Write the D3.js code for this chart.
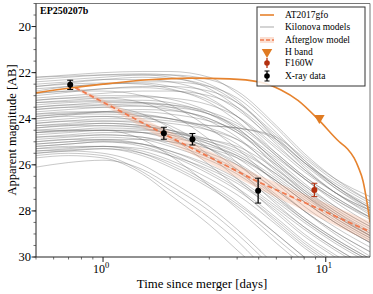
<!DOCTYPE html>
<html>
<head>
<meta charset="utf-8">
<script src="https://cdn.jsdelivr.net/npm/d3@7"></script>
<style>
  html, body { margin: 0; padding: 0; background: #fff; }
  text { font-family: "Liberation Serif", "DejaVu Serif", serif; }
</style>
</head>
<body>
<div id="chart"></div>
<script>
// AT2017gfo H-band light curve (days, AB mag)
const gfoTime = [0.5, 0.7, 1.0, 1.6, 2.5, 3.7, 5.0, 6.3, 7.5, 9.3, 11.5, 12.5, 13.4, 14.0, 14.7, 15.3, 15.8];
const gfoMag  = [22.88, 22.68, 22.5, 22.31, 22.24, 22.27, 22.4, 22.75, 23.2, 24.05, 25.0, 25.3, 25.7, 26.1, 26.7, 27.6, 28.5];

// afterglow model (power law) and its band
const afterglowTime = [0.75, 2, 5, 15.8];
const afterglowMag  = [22.65, 24.8, 26.75, 28.9];
const afterglowLow  = [22.58, 24.55, 26.45, 28.45];
const afterglowHigh = [22.72, 25.05, 27.05, 29.35];

// detections
const xrayTime = [0.712, 1.875, 2.52, 4.97];
const xrayMag  = [22.53, 24.63, 24.89, 27.12];
const xrayErr  = [0.2, 0.26, 0.25, 0.54];

const f160Time = [8.89];
const f160Mag  = [27.09];
const f160Err  = [0.29];

const hBandTime = [9.36];
const hBandMag  = [23.97];

// kilonova model grid, mags at kilonovaTimes
const kilonovaTimes = [0.5, 0.7, 1, 1.5, 2, 3, 4, 6, 8, 11, 16];
const kilonovaMags = [
  [22.2, 22.1, 22.0, 21.95, 21.95, 22.2, 22.9, 24.4, 25.6, 26.6, 27.4],
  [22.4, 22.3, 22.2, 22.1, 22.1, 22.3, 22.8, 24.3, 25.5, 26.6, 27.6],
  [22.6, 22.45, 22.3, 22.2, 22.25, 22.6, 23.3, 24.8, 25.9, 26.9, 27.8],
  [22.3, 22.2, 22.1, 22.05, 22.1, 22.5, 23.2, 24.9, 26.1, 27.2, 28.1],
  [22.8, 22.6, 22.5, 22.4, 22.4, 22.6, 23.1, 24.6, 25.8, 26.9, 27.9],
  [22.7, 22.6, 22.5, 22.45, 22.6, 23.1, 23.9, 25.3, 26.3, 27.2, 28.0],
  [22.5, 22.4, 22.3, 22.3, 22.4, 22.9, 23.6, 25.0, 26.0, 27.0, 27.9],
  [22.9, 22.8, 22.7, 22.6, 22.6, 22.8, 23.3, 24.7, 25.7, 26.7, 27.6],
  [23.0, 22.85, 22.7, 22.65, 22.75, 23.2, 23.9, 25.5, 26.5, 27.4, 28.3],
  [22.6, 22.5, 22.45, 22.5, 22.7, 23.3, 24.1, 25.6, 26.6, 27.5, 28.3],
  [23.1, 23.0, 22.9, 22.8, 22.8, 23.0, 23.5, 24.9, 25.9, 26.8, 27.7],
  [22.2, 22.15, 22.1, 22.1, 22.2, 22.7, 23.5, 25.1, 26.2, 27.2, 28.0],
  [23.3, 23.2, 23.1, 23.05, 23.1, 23.4, 23.9, 25.2, 26.2, 27.2, 28.2],
  [23.5, 23.4, 23.3, 23.3, 23.4, 23.8, 24.3, 25.6, 26.6, 27.6, 28.6],
  [23.7, 23.6, 23.5, 23.45, 23.5, 23.8, 24.4, 25.9, 27.0, 28.0, 29.0],
  [23.2, 23.1, 23.0, 23.0, 23.15, 23.7, 24.4, 25.9, 26.9, 27.9, 28.8],
  [23.9, 23.8, 23.7, 23.7, 23.8, 24.1, 24.5, 25.7, 26.6, 27.5, 28.4],
  [24.0, 23.85, 23.7, 23.6, 23.65, 24.0, 24.6, 26.0, 27.1, 28.1, 29.1],
  [23.4, 23.3, 23.25, 23.3, 23.5, 24.1, 24.8, 26.3, 27.3, 28.3, 29.2],
  [23.6, 23.5, 23.4, 23.35, 23.4, 23.7, 24.2, 25.5, 26.5, 27.4, 28.3],
  [24.1, 24.0, 23.9, 23.9, 24.0, 24.3, 24.4, 24.8, 25.8, 26.9, 27.9],
  [23.8, 23.75, 23.7, 23.8, 24.0, 24.5, 25.1, 26.5, 27.4, 28.3, 29.2],
  [24.2, 24.1, 24.0, 24.0, 24.1, 24.3, 24.4, 24.9, 25.9, 27.0, 28.0],
  [23.3, 23.25, 23.2, 23.2, 23.3, 23.8, 24.5, 26.1, 27.2, 28.2, 29.1],
  [24.3, 24.2, 24.1, 24.1, 24.2, 24.5, 24.9, 26.0, 26.9, 27.8, 28.7],
  [23.9, 23.8, 23.8, 23.85, 24.0, 24.4, 24.9, 26.2, 27.2, 28.1, 29.0],
  [23.5, 23.4, 23.4, 23.45, 23.6, 24.0, 24.6, 25.8, 26.8, 27.8, 28.7],
  [24.4, 24.3, 24.2, 24.3, 24.5, 25.0, 25.5, 26.6, 27.5, 28.4, 29.3],
  [24.6, 24.5, 24.4, 24.45, 24.6, 25.0, 25.4, 26.4, 27.3, 28.2, 29.1],
  [24.5, 24.4, 24.3, 24.4, 24.7, 25.3, 25.9, 27.1, 28.0, 28.9, 29.8],
  [24.8, 24.7, 24.6, 24.6, 24.7, 25.1, 25.6, 26.7, 27.6, 28.5, 29.4],
  [24.2, 24.1, 24.1, 24.2, 24.5, 25.1, 25.7, 27.0, 28.0, 29.0, 30.0],
  [24.9, 24.8, 24.7, 24.8, 25.0, 25.5, 26.0, 27.1, 28.0, 28.9, 29.8],
  [24.7, 24.6, 24.5, 24.5, 24.6, 24.9, 25.2, 26.2, 27.1, 28.0, 28.9],
  [25.0, 24.9, 24.8, 24.9, 25.2, 25.8, 26.4, 27.6, 28.5, 29.4, 30.3],
  [24.3, 24.25, 24.2, 24.3, 24.6, 25.3, 26.0, 27.3, 28.3, 29.2, 30.1],
  [24.6, 24.55, 24.5, 24.6, 24.9, 25.6, 26.2, 27.4, 28.3, 29.2, 30.1],
  [25.1, 25.0, 24.9, 24.9, 25.0, 25.3, 25.7, 26.7, 27.6, 28.5, 29.4],
  [24.4, 24.3, 24.3, 24.35, 24.5, 24.9, 25.3, 26.4, 27.3, 28.2, 29.1],
  [24.8, 24.75, 24.7, 24.8, 25.1, 25.7, 26.3, 27.5, 28.4, 29.3, 30.2],
  [25.2, 25.1, 25.0, 25.1, 25.4, 26.0, 26.6, 27.8, 28.7, 29.6, 30.5],
  [24.5, 24.5, 24.5, 24.6, 24.8, 25.2, 25.6, 26.7, 27.6, 28.5, 29.4],
  [25.3, 25.2, 25.2, 25.5, 26.0, 26.9, 27.7, 29.0, 30.0, 31.0, 32.0],
  [25.5, 25.4, 25.5, 26.0, 26.7, 27.8, 28.8, 30.4, 31.5, 32.5, 33.5],
  [25.6, 25.5, 25.6, 26.3, 27.1, 28.3, 29.3, 31.0, 32.0, 33.0, 34.0],
  [25.4, 25.3, 25.2, 25.4, 25.8, 26.6, 27.3, 28.6, 29.6, 30.5, 31.5],
  [26.1, 25.9, 25.8, 26.2, 26.9, 28.0, 29.0, 30.6, 31.6, 32.6, 33.6],
  [25.2, 25.1, 25.0, 25.2, 25.6, 26.4, 27.1, 28.4, 29.4, 30.3, 31.2],
  [25.5, 25.4, 25.3, 25.5, 25.9, 26.8, 27.6, 29.0, 30.0, 31.0, 32.0],
  [25.7, 25.6, 25.7, 26.4, 27.3, 28.6, 29.7, 31.2, 32.2, 33.2, 34.2],
  [25.3, 25.25, 25.2, 25.3, 25.6, 26.2, 26.8, 28.0, 29.0, 29.9, 30.8],
  [25.0, 24.9, 24.9, 25.1, 25.5, 26.3, 27.0, 28.3, 29.3, 30.2, 31.1],
  [25.4, 25.35, 25.3, 25.6, 26.1, 27.0, 27.8, 29.2, 30.2, 31.2, 32.2],
  [25.1, 25.0, 24.95, 25.1, 25.4, 26.1, 26.7, 27.9, 28.8, 29.7, 30.6],
  [23.6, 23.5, 23.5, 23.8, 24.4, 25.6, 26.6, 28.1, 29.1, 30.0, 31.0],
  [24.0, 23.9, 23.9, 24.2, 24.8, 26.0, 27.0, 28.5, 29.5, 30.4, 31.3],
  [23.2, 23.1, 23.1, 23.3, 23.8, 24.9, 25.9, 27.4, 28.4, 29.3, 30.2],
  [24.6, 24.5, 24.5, 24.9, 25.6, 26.9, 27.9, 29.4, 30.4, 31.4, 32.4],
  [22.9, 22.8, 22.8, 23.0, 23.4, 24.4, 25.3, 26.8, 27.8, 28.7, 29.6],
  [23.8, 23.7, 23.7, 23.9, 24.3, 25.3, 26.2, 27.7, 28.7, 29.6, 30.5]
];

const yMajor = [20, 22, 24, 26, 28, 30];
const xMajor = [1, 10];
const xMajorExp = ["0", "1"];

const W = 373, H = 294;
const margin = { top: 3.5, right: 3, bottom: 37, left: 36 };
const width = W - margin.left - margin.right;
const height = H - margin.top - margin.bottom;

const svg = d3.select("#chart").append("svg")
    .attr("width", W).attr("height", H);

const g = svg.append("g")
    .attr("transform", `translate(${margin.left},${margin.top})`);

const x = d3.scaleLog().domain([0.5, 15.8]).range([0, width]);
const y = d3.scaleLinear().domain([19, 30]).range([0, height]);

g.append("clipPath").attr("id", "clip")
  .append("rect").attr("width", width).attr("height", height);

const plot = g.append("g").attr("clip-path", "url(#clip)");

const line = d3.line()
    .x(d => x(d[0])).y(d => y(d[1]))
    .curve(d3.curveMonotoneX);

// kilonova models
plot.append("g").selectAll("path")
  .data(kilonovaMags)
  .join("path")
    .attr("d", mags => line(mags.map((m, i) => [kilonovaTimes[i], m])))
    .attr("fill", "none")
    .attr("stroke", "#6e6e6e")
    .attr("stroke-opacity", 0.42)
    .attr("stroke-width", 0.9);

// afterglow band + line
const band = d3.area()
    .x((d, i) => x(afterglowTime[i]))
    .y0((d, i) => y(afterglowLow[i]))
    .y1((d, i) => y(afterglowHigh[i]));
plot.append("path")
    .attr("d", band(afterglowTime))
    .attr("fill", "#f4a582")
    .attr("fill-opacity", 0.3);

plot.append("path")
    .attr("d", d3.line().x(d => x(d[0])).y(d => y(d[1]))(afterglowTime.map((t, i) => [t, afterglowMag[i]])))
    .attr("fill", "none")
    .attr("stroke", "#f07a4f")
    .attr("stroke-width", 1.8)
    .attr("stroke-dasharray", "5,3");

// AT2017gfo
plot.append("path")
    .attr("d", line(gfoTime.map((t, i) => [t, gfoMag[i]])))
    .attr("fill", "none")
    .attr("stroke", "#e6832e")
    .attr("stroke-width", 1.6);

// H band upper limit marker
const tri = d3.symbol().type(d3.symbolTriangle).size(48);
plot.selectAll(".hband")
  .data(hBandTime)
  .join("path")
    .attr("transform", (t, i) => `translate(${x(t)},${y(hBandMag[i])}) rotate(180)`)
    .attr("d", tri)
    .attr("fill", "#e07b22");

// error bar points
function errPoints(times, mags, errs, color) {
  const grp = plot.append("g");
  times.forEach((t, i) => {
    const cx = x(t);
    grp.append("line")
        .attr("x1", cx).attr("x2", cx)
        .attr("y1", y(mags[i] - errs[i])).attr("y2", y(mags[i] + errs[i]))
        .attr("stroke", color).attr("stroke-width", 1.3);
    [mags[i] - errs[i], mags[i] + errs[i]].forEach(m => {
      grp.append("line")
          .attr("x1", cx - 3).attr("x2", cx + 3)
          .attr("y1", y(m)).attr("y2", y(m))
          .attr("stroke", color).attr("stroke-width", 1);
    });
    grp.append("circle")
        .attr("cx", cx).attr("cy", y(mags[i])).attr("r", 3)
        .attr("fill", color);
  });
}
errPoints(f160Time, f160Mag, f160Err, "#b3300f");
errPoints(xrayTime, xrayMag, xrayErr, "#000");

// frame
g.append("line").attr("x1", 0).attr("x2", width).attr("y1", 0).attr("y2", 0).attr("stroke", "#777");
g.append("line").attr("x1", width).attr("x2", width).attr("y1", 0).attr("y2", height).attr("stroke", "#777");

// axes
const xMinor = [0.5, 0.6, 0.7, 0.8, 0.9, 2, 3, 4, 5, 6, 7, 8, 9];
const xAxis = g.append("g").attr("transform", `translate(0,${height})`);
xAxis.append("line").attr("x1", 0).attr("x2", width).attr("stroke", "#222");
xAxis.selectAll(".minor").data(xMinor).join("line")
    .attr("x1", d => x(d)).attr("x2", d => x(d)).attr("y1", 0).attr("y2", 2.5)
    .attr("stroke", "#333").attr("stroke-width", 0.7);
xAxis.selectAll(".major").data(xMajor).join("line")
    .attr("x1", d => x(d)).attr("x2", d => x(d)).attr("y1", 0).attr("y2", 5)
    .attr("stroke", "#222");
xAxis.selectAll(".lab").data(xMajor).join("text")
    .attr("x", d => x(d) - 2).attr("y", 16)
    .attr("text-anchor", "middle")
    .attr("font-size", 12)
    .text("10")
  .append("tspan")
    .attr("dy", -5).attr("font-size", 8.5)
    .text((d, i) => xMajorExp[i]);

const yMinor = d3.range(19, 30.01, 0.5);
const yAxis = g.append("g");
yAxis.append("line").attr("y1", 0).attr("y2", height).attr("stroke", "#222");
yAxis.selectAll(".minor").data(yMinor).join("line")
    .attr("y1", d => y(d)).attr("y2", d => y(d)).attr("x1", 0).attr("x2", -2.5)
    .attr("stroke", "#333").attr("stroke-width", 0.7);
yAxis.selectAll(".major").data(yMajor).join("line")
    .attr("y1", d => y(d)).attr("y2", d => y(d)).attr("x1", 0).attr("x2", -4.5)
    .attr("stroke", "#222");
yAxis.selectAll(".lab").data(yMajor).join("text")
    .attr("x", -5).attr("y", d => y(d) + 4.3)
    .attr("text-anchor", "end")
    .attr("font-size", 12.5)
    .text(d => d);

// axis labels
svg.append("text")
    .attr("x", 202).attr("y", 288)
    .attr("text-anchor", "middle").attr("font-size", 12.8)
    .text("Time since merger [days]");
svg.append("text")
    .attr("transform", "translate(16,130) rotate(-90)")
    .attr("text-anchor", "middle").attr("font-size", 12.5)
    .text("Apparent magnitude [AB]");

svg.append("text")
    .attr("x", 40).attr("y", 14)
    .attr("font-size", 10).attr("font-weight", "bold")
    .text("EP250207b");

// legend
const lg = svg.append("g").attr("transform", "translate(257,7)");
lg.append("rect").attr("width", 108).attr("height", 79)
    .attr("fill", "#fff").attr("fill-opacity", 0.85)
    .attr("stroke", "#333").attr("stroke-width", 1);
const rowY = [8, 20, 33, 45, 56, 69];
const labels = ["AT2017gfo", "Kilonova models", "Afterglow model", "H band", "F160W", "X-ray data"];
const hx0 = 3, hx1 = 17, hxm = 10;
lg.append("line").attr("x1", hx0).attr("x2", hx1).attr("y1", rowY[0]).attr("y2", rowY[0])
    .attr("stroke", "#e6832e").attr("stroke-width", 1.6);
lg.append("line").attr("x1", hx0).attr("x2", hx1).attr("y1", rowY[1]).attr("y2", rowY[1])
    .attr("stroke", "#d0d0d0").attr("stroke-width", 1.8);
lg.append("rect").attr("x", hx0).attr("y", rowY[2] - 3).attr("width", hx1 - hx0).attr("height", 6)
    .attr("fill", "#f4a582").attr("fill-opacity", 0.35);
lg.append("line").attr("x1", hx0).attr("x2", hx1).attr("y1", rowY[2]).attr("y2", rowY[2])
    .attr("stroke", "#f07a4f").attr("stroke-width", 1.6).attr("stroke-dasharray", "4,2");
lg.append("path").attr("d", tri).attr("fill", "#e07b22")
    .attr("transform", `translate(${hxm},${rowY[3]}) rotate(180)`);
[[rowY[4], "#b3300f"], [rowY[5], "#000"]].forEach(([ry, c]) => {
  lg.append("line").attr("x1", hxm).attr("x2", hxm).attr("y1", ry - 5).attr("y2", ry + 5)
      .attr("stroke", c).attr("stroke-width", 1.3);
  if (c === "#000") {
    lg.append("line").attr("x1", hxm - 2.5).attr("x2", hxm + 2.5).attr("y1", ry - 5).attr("y2", ry - 5).attr("stroke", c);
    lg.append("line").attr("x1", hxm - 2.5).attr("x2", hxm + 2.5).attr("y1", ry + 5).attr("y2", ry + 5).attr("stroke", c);
  }
  lg.append("circle").attr("cx", hxm).attr("cy", ry).attr("r", 2.8).attr("fill", c);
});
lg.selectAll(".lt").data(labels).join("text")
    .attr("x", 28).attr("y", (d, i) => rowY[i] + 3.3)
    .attr("font-size", 9.5)
    .text(d => d);
</script>
</body>
</html>
